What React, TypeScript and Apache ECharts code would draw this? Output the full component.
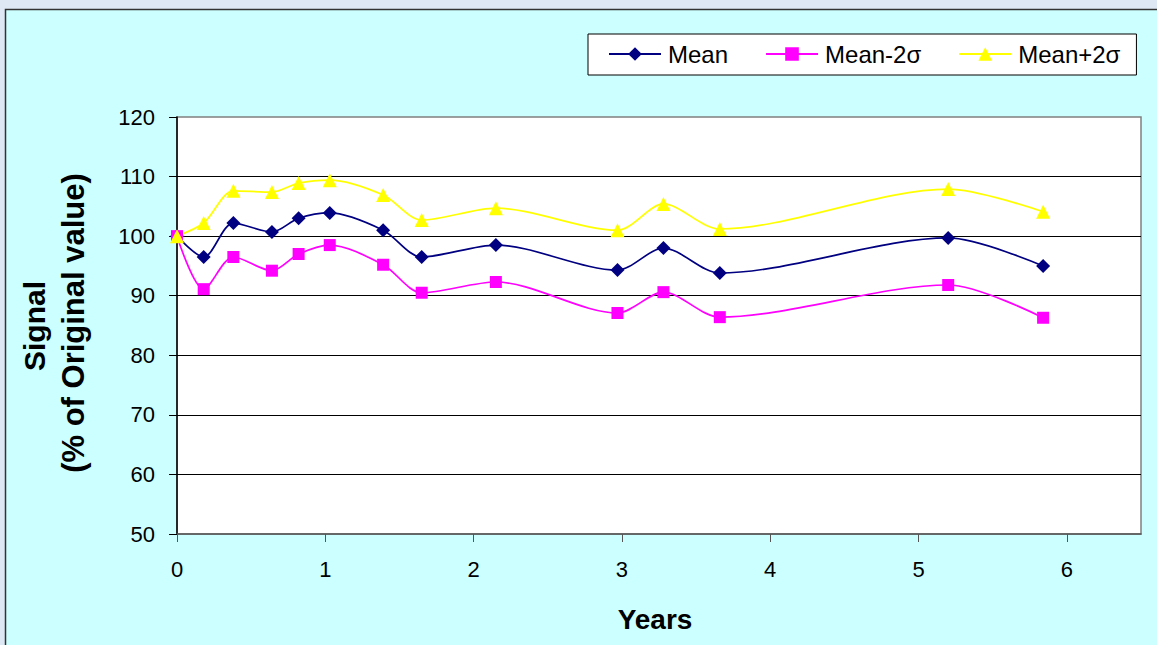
import React, { useEffect, useRef } from "react";
import * as echarts from "echarts";

const years = [0, 0.18, 0.38, 0.64, 0.82, 1.03, 1.39, 1.65, 2.15, 2.97, 3.28, 3.66, 5.2, 5.84];
const meanValues = [100, 96.5, 102.2, 100.7, 103.0, 103.9, 101.0, 96.5, 98.5, 94.3, 98.0, 93.8, 99.7, 95.0];
const meanMinus2s = [100, 91.1, 96.5, 94.2, 97.0, 98.5, 95.2, 90.5, 92.3, 87.1, 90.6, 86.4, 91.8, 86.3];
const meanPlus2s = [100, 102.2, 107.6, 107.4, 108.9, 109.4, 106.9, 102.7, 104.7, 101.0, 105.4, 101.2, 107.9, 104.1];
const xTicks = [0, 1, 2, 3, 4, 5, 6];
const seriesNames = ["Mean", "Mean-2σ", "Mean+2σ"];

const FONT = "'Liberation Sans', Arial, sans-serif";

function pairs(xs: number[], ys: number[]) {
  return xs.map((x, i) => [x, ys[i]]);
}

export default function App() {
  const ref = useRef<HTMLDivElement>(null);
  useEffect(() => {
    if (!ref.current) return;
    const chart = echarts.init(ref.current, null, { renderer: "svg" });
    const lineSeries = (name: string, ys: number[], color: string, symbol: string, size: number) => ({
      name,
      type: "line",
      data: pairs(years, ys),
      smooth: 0.3,
      symbol,
      symbolSize: size,
      showAllSymbol: true,
      lineStyle: { color, width: 1.7 },
      itemStyle: { color, borderWidth: 0 },
      emphasis: { disabled: true },
    });
    chart.setOption({
      animation: false,
      backgroundColor: "#DEE8F4",
      graphic: [
        {
          type: "rect",
          z: -100,
          shape: { x: 5.5, y: 9.5, width: 1200, height: 700 },
          style: { fill: "#CCFFFF", stroke: "#333333", lineWidth: 1.5 },
        },
        {
          type: "text",
          x: 34,
          y: 326,
          rotation: Math.PI / 2,
          style: {
            text: "Signal",
            font: `bold 30px ${FONT}`,
            fill: "#000",
            textAlign: "center",
            textVerticalAlign: "middle",
          },
        },
        {
          type: "text",
          x: 73,
          y: 323,
          rotation: Math.PI / 2,
          style: {
            text: "(% of Original value)",
            font: `bold 31px ${FONT}`,
            fill: "#000",
            textAlign: "center",
            textVerticalAlign: "middle",
          },
        },
        {
          type: "text",
          x: 655,
          y: 619,
          style: {
            text: "Years",
            font: `bold 28px ${FONT}`,
            fill: "#000",
            textAlign: "center",
            textVerticalAlign: "middle",
          },
        },
      ],
      grid: {
        left: 177,
        top: 117,
        right: 16,
        bottom: 111,
        show: true,
        backgroundColor: "#FFFFFF",
        borderColor: "#808080",
        borderWidth: 1.5,
      },
      legend: {
        left: 588,
        top: 34,
        orient: "horizontal",
        backgroundColor: "#FFFFFF",
        borderColor: "#000000",
        borderWidth: 1,
        padding: [8, 16, 9, 20],
        itemGap: 37,
        itemWidth: 52,
        itemHeight: 17,
        data: seriesNames,
        textStyle: {
          fontFamily: FONT,
          fontSize: 24,
          color: "#000",
          padding: [0, 0, 0, 2],
        },
      },
      xAxis: {
        type: "value",
        min: 0,
        max: 6.5,
        interval: 1,
        axisLine: { show: true, lineStyle: { color: "#555555", width: 1.5 } },
        axisTick: {
          show: true,
          length: 8,
          customValues: xTicks,
          lineStyle: { color: "#555555", width: 1 },
        },
        axisLabel: {
          customValues: xTicks,
          margin: 24,
          fontFamily: FONT,
          fontSize: 22,
          color: "#000",
          formatter: (v: number) => (Number.isInteger(v) ? String(v) : ""),
        },
        splitLine: { show: false },
      },
      yAxis: {
        type: "value",
        min: 50,
        max: 120,
        interval: 10,
        axisLine: { show: true, lineStyle: { color: "#000000", width: 1.5 } },
        axisTick: { show: true, length: 8, lineStyle: { color: "#000000", width: 1 } },
        axisLabel: {
          margin: 22,
          fontFamily: FONT,
          fontSize: 22,
          color: "#000",
        },
        splitLine: {
          show: true,
          showMinLine: false,
          showMaxLine: false,
          lineStyle: { color: "#000000", width: 1 },
        },
      },
      series: [
        lineSeries(seriesNames[0], meanValues, "#000080", "diamond", 14),
        lineSeries(seriesNames[1], meanMinus2s, "#FF00FF", "rect", 12),
        lineSeries(seriesNames[2], meanPlus2s, "#FFFF00", "triangle", 14),
      ],
    });
    return () => chart.dispose();
  }, []);
  return (
    <div
      ref={ref}
      style={{ position: "fixed", left: 0, top: 0, width: 1157, height: 645 }}
    />
  );
}
